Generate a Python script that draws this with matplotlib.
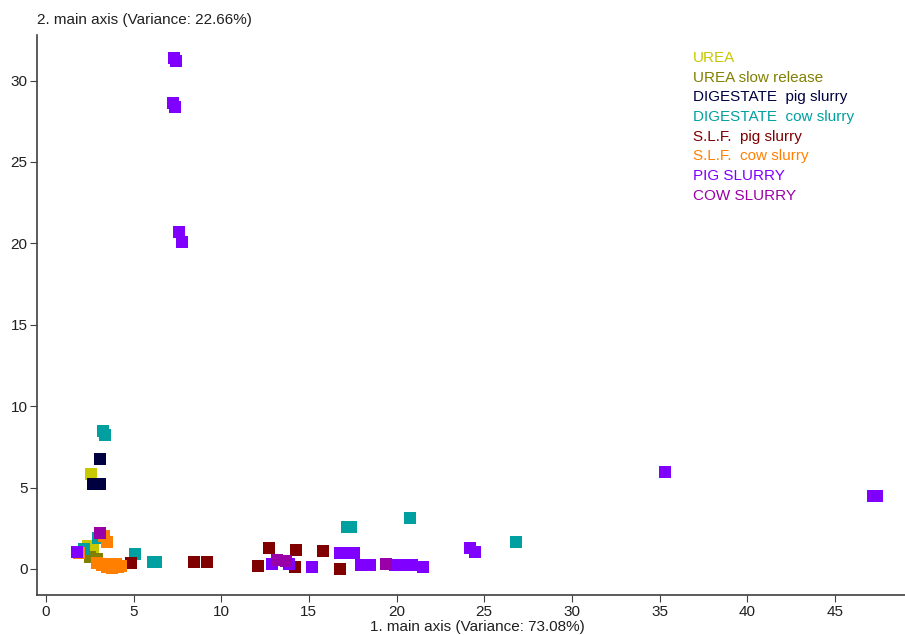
import matplotlib
matplotlib.use("Agg")
import matplotlib.pyplot as plt

plt.rcParams['font.family'] = ['Liberation Sans', 'DejaVu Sans']

groups = ["UREA", "UREA slow release", "DIGESTATE  pig slurry", "DIGESTATE  cow slurry",
          "S.L.F.  pig slurry", "S.L.F.  cow slurry", "PIG SLURRY", "COW SLURRY"]
colors = ["#c8c800", "#808000", "#000040", "#00a0a0", "#800000", "#ff8000", "#8000ff", "#9a00a8"]

urea_x = [2.6, 2.4, 2.7]
urea_y = [5.85, 1.4, 1.2]

urea_sr_x = [2.5, 2.9]
urea_sr_y = [0.75, 0.6]

dig_pig_x = [3.1, 2.7, 3.1]
dig_pig_y = [6.75, 5.2, 5.2]

dig_cow_x = [3.25, 3.4, 2.2, 3.0, 3.6, 5.1, 6.1, 6.3, 17.15, 17.4, 20.75, 26.8]
dig_cow_y = [8.5, 8.2, 1.2, 1.9, 0.1, 0.9, 0.45, 0.45, 2.6, 2.6, 3.1, 1.65]

slf_pig_x = [4.85, 8.45, 9.2, 12.1, 12.75, 14.2, 14.25, 15.8, 16.8]
slf_pig_y = [0.35, 0.45, 0.45, 0.2, 1.3, 0.1, 1.15, 1.1, 0.0]

slf_cow_x = [3.3, 3.5, 1.9, 2.9, 3.2, 3.5, 3.8, 4.1, 4.3, 3.6, 4.0]
slf_cow_y = [2.0, 1.65, 1.0, 0.35, 0.25, 0.1, 0.05, 0.1, 0.2, 0.3, 0.3]

pig_x = [7.3, 7.4, 7.25, 7.35, 7.6, 7.75, 35.3, 47.2, 47.4, 24.2, 24.5,
         12.9, 13.85, 15.2, 16.8, 17.2, 17.6, 18.0, 18.5, 19.9, 20.5, 20.9, 21.5, 1.8]
pig_y = [31.4, 31.2, 28.6, 28.4, 20.7, 20.1, 5.95, 4.5, 4.5, 1.3, 1.05,
         0.3, 0.3, 0.15, 0.95, 0.95, 0.95, 0.25, 0.25, 0.25, 0.25, 0.25, 0.15, 1.05]

cow_x = [3.1, 13.2, 13.7, 19.4]
cow_y = [2.2, 0.55, 0.5, 0.3]

xs = [urea_x, urea_sr_x, dig_pig_x, dig_cow_x, slf_pig_x, slf_cow_x, pig_x, cow_x]
ys = [urea_y, urea_sr_y, dig_pig_y, dig_cow_y, slf_pig_y, slf_cow_y, pig_y, cow_y]

x_ticks = [0, 5, 10, 15, 20, 25, 30, 35, 40, 45]
y_ticks = [0, 5, 10, 15, 20, 25, 30]

fig = plt.figure(figsize=(9.05, 6.35), dpi=100)
ax = fig.add_axes([0.041, 0.063, 0.959, 0.882])

for x, y, c in zip(xs, ys, colors):
    ax.scatter(x, y, marker='s', s=64, color=c, linewidths=0)

ax.set_xlim(-0.5, 49)
ax.set_ylim(-1.6, 32.8)
ax.set_xticks(x_ticks)
ax.set_yticks(y_ticks)
ax.spines['top'].set_visible(False)
ax.spines['right'].set_visible(False)
for s in ['left', 'bottom']:
    ax.spines[s].set_color('#404040')
    ax.spines[s].set_linewidth(1.2)
ax.tick_params(labelsize=11, length=5, color='#404040', labelcolor='#202020', pad=2)

fig.text(0.041, 0.957, "2. main axis (Variance: 22.66%)", fontsize=11, color='#202020',
         ha='left', va='bottom')
fig.text(0.528, 0.002, "1. main axis (Variance: 73.08%)", fontsize=11, color='#202020',
         ha='center', va='bottom')

for i, (g, c) in enumerate(zip(groups, colors)):
    ax.text(0.756, 0.959 - i * 0.0352, g, color=c, fontsize=11, transform=ax.transAxes,
            ha='left', va='center')

fig.savefig("out.png", dpi=100)
